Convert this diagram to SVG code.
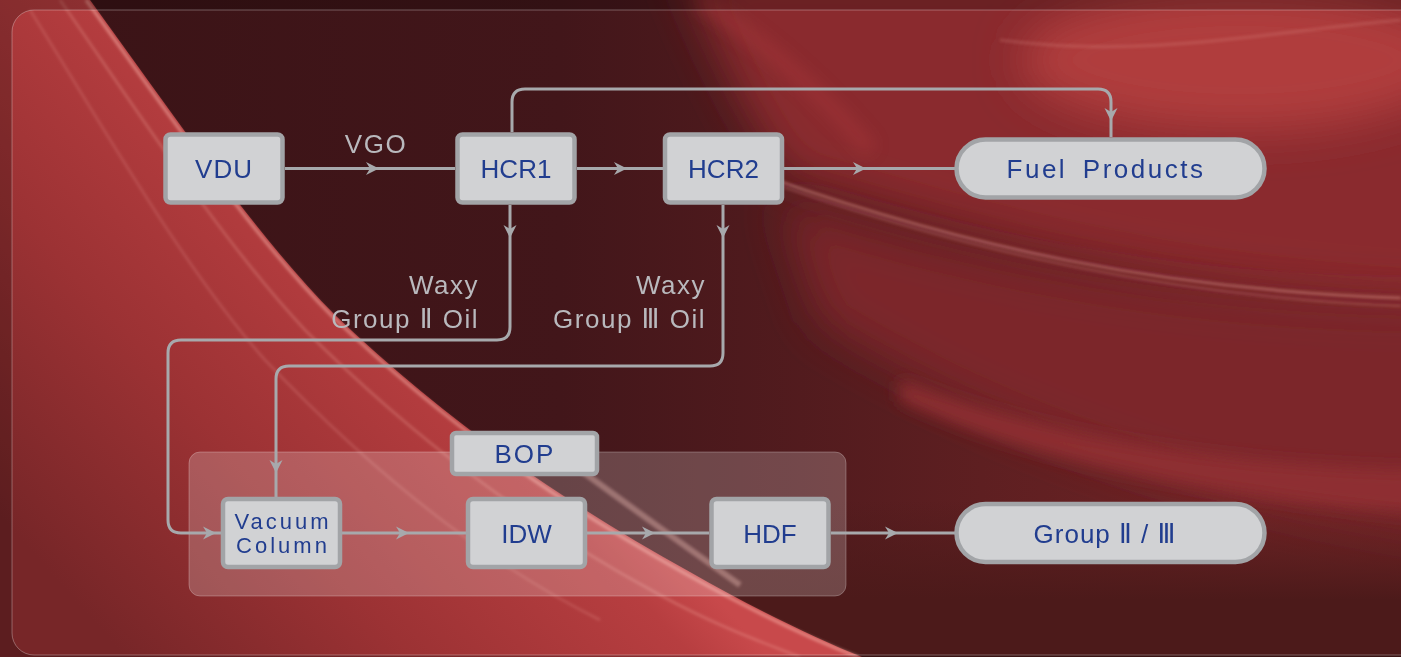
<svg xmlns="http://www.w3.org/2000/svg" xmlns:xlink="http://www.w3.org/1999/xlink" width="1401" height="657" viewBox="0 0 1401 657">
<defs>
<style>
.box{fill:#d1d2d4;stroke:#a2a4a7;stroke-width:4.5}
.nt{font-family:"Liberation Sans","DejaVu Sans",Arial,sans-serif;font-size:26px;fill:#213d8f;text-anchor:middle}
.lb{font-family:"Liberation Sans","DejaVu Sans",Arial,sans-serif;font-size:26px;fill:#b9b9bd;letter-spacing:1.5px}
.ln{fill:none;stroke:#a7a9ac;stroke-width:3}
.ah{fill:#a7a9ac}
</style>
<filter id="b20" filterUnits="userSpaceOnUse" x="-300" y="-300" width="2001" height="1257"><feGaussianBlur stdDeviation="22"/></filter>
<filter id="b8" filterUnits="userSpaceOnUse" x="-300" y="-300" width="2001" height="1257"><feGaussianBlur stdDeviation="8"/></filter>
<filter id="b2" filterUnits="userSpaceOnUse" x="-300" y="-300" width="2001" height="1257"><feGaussianBlur stdDeviation="1.5"/></filter>
<linearGradient id="base" x1="0" y1="0" x2="1" y2="0">
<stop offset="0" stop-color="#3a1316"/>
<stop offset="0.4" stop-color="#42161a"/>
<stop offset="0.7" stop-color="#5e1f21"/>
<stop offset="1" stop-color="#782628"/>
</linearGradient>
<linearGradient id="dark" gradientUnits="userSpaceOnUse" x1="0" y1="500" x2="0" y2="600">
<stop offset="0" stop-color="#4c1a1a" stop-opacity="0"/>
<stop offset="1" stop-color="#4c1a1a" stop-opacity="1"/>
</linearGradient>
<linearGradient id="swath" gradientUnits="userSpaceOnUse" x1="470" y1="320" x2="110" y2="640">
<stop offset="0" stop-color="#c8494b"/>
<stop offset="0.12" stop-color="#b73e40"/>
<stop offset="0.55" stop-color="#9c3234"/>
<stop offset="1" stop-color="#772628"/>
</linearGradient>
<path id="ah" d="M-13,-6.5 L0,0 L-13,6.5 L-9,0 Z"/>
</defs>

<g id="background">
<rect x="0" y="0" width="1401" height="657" fill="url(#base)"/>
<path d="M680,-40 L1460,-40 L1460,300 C1200,290 1000,240 790,175 C750,120 720,60 680,-40 Z" fill="#8a2b2d" filter="url(#b20)"/>
<ellipse cx="1240" cy="60" rx="220" ry="70" fill="#b03c3e" filter="url(#b20)"/>
<path d="M780,200 C1000,270 1200,305 1460,305 L1460,540 C1200,500 1000,430 820,320 Z" fill="#7c2729" filter="url(#b20)"/>
<path d="M900,380 C1050,440 1250,470 1460,470 L1460,520 C1250,500 1050,470 900,400 Z" fill="#8e2e30" filter="url(#b8)"/>
<rect x="700" y="500" width="701" height="157" fill="url(#dark)"/>
<path d="M700,0 C760,40 820,90 870,150" fill="none" stroke="#a8383a" stroke-width="14" filter="url(#b8)" opacity="0.5"/>
<g fill="none" stroke="#f0a8a0" filter="url(#b2)">
<path d="M770,178 C960,245 1160,290 1401,298" stroke-width="2.5" opacity="0.45"/>
<path d="M780,186 C970,252 1170,296 1401,306" stroke-width="1.5" opacity="0.35"/>
<path d="M1000,40 C1150,60 1280,30 1401,20" stroke-width="3" opacity="0.2"/>
</g>
<path d="M0,0 L90,0 C170,110 255,235 335,315 C445,420 560,500 690,572 C760,612 820,640 862,657 L0,657 Z" fill="url(#swath)"/>
<g fill="none" stroke="#ffc0b4" filter="url(#b2)">
<path d="M86,0 C166,110 252,236 332,316 C442,421 556,502 686,574 C756,613 816,641 858,657" stroke-width="3" opacity="0.5"/>
<path d="M60,0 C140,115 225,245 305,330 C415,440 530,525 660,595 C720,628 770,645 800,657" stroke-width="2" opacity="0.3"/>
<path d="M30,10 C105,130 185,270 265,360 C370,470 480,560 600,620" stroke-width="2" opacity="0.22"/>
<path d="M540,440 C580,470 620,500 740,585" stroke-width="6" opacity="0.35"/>
</g>
<path d="M0,0 H1401 V657 H0 Z M34,10 H1401 V655 H34 A22,22 0 0 1 12,633 V32 A22,22 0 0 1 34,10 Z" fill="#000" fill-opacity="0.22" fill-rule="evenodd"/>
<path d="M1401,10 H34 A22,22 0 0 0 12,32 V633 A22,22 0 0 0 34,655 H1401" fill="none" stroke="#ffffff" stroke-opacity="0.3" stroke-width="1"/>
</g>

<g id="bop-panel">
<rect x="189" y="452" width="657" height="144" rx="11" fill="#ffffff" fill-opacity="0.2" stroke="#ffffff" stroke-opacity="0.25" stroke-width="1"/>
</g>

<g id="connectors">
<path class="ln" d="M285,168.5 H455"/>
<path class="ln" d="M577,168.5 H663"/>
<path class="ln" d="M784,168.5 H956"/>
<path class="ln" d="M512,132 V102 Q512,89 525,89 H1098 Q1111,89 1111,102 V137"/>
<path class="ln" d="M510,205 V327 Q510,340 497,340 H181 Q168,340 168,353 V520 Q168,533 181,533 H221"/>
<path class="ln" d="M723,205 V353 Q723,366 710,366 H289 Q276,366 276,379 V497"/>
<path class="ln" d="M342,533 H466"/>
<path class="ln" d="M587,533 H709"/>
<path class="ln" d="M831,533 H955"/>
<use xlink:href="#ah" class="ah" transform="translate(379,168.5)"/>
<use xlink:href="#ah" class="ah" transform="translate(627,168.5)"/>
<use xlink:href="#ah" class="ah" transform="translate(866,168.5)"/>
<use xlink:href="#ah" class="ah" transform="translate(1111,121) rotate(90)"/>
<use xlink:href="#ah" class="ah" transform="translate(510,238) rotate(90)"/>
<use xlink:href="#ah" class="ah" transform="translate(723,238) rotate(90)"/>
<use xlink:href="#ah" class="ah" transform="translate(216,533)"/>
<use xlink:href="#ah" class="ah" transform="translate(276,473) rotate(90)"/>
<use xlink:href="#ah" class="ah" transform="translate(409,533)"/>
<use xlink:href="#ah" class="ah" transform="translate(655,533)"/>
<use xlink:href="#ah" class="ah" transform="translate(898,533)"/>
</g>

<g id="labels">
<text class="lb" x="376" y="153" text-anchor="middle">VGO</text>
<text class="lb" x="479" y="294" text-anchor="end">Waxy</text>
<text class="lb" x="479" y="328" text-anchor="end">Group Ⅱ Oil</text>
<text class="lb" x="706" y="294" text-anchor="end">Waxy</text>
<text class="lb" x="706" y="328" text-anchor="end">Group Ⅲ Oil</text>
</g>

<g id="node-vdu">
<rect class="box" x="165.5" y="134.5" width="117" height="68" rx="5"/>
<text class="nt" x="224" y="177.5" letter-spacing="1">VDU</text>
</g>
<g id="node-hcr1">
<rect class="box" x="457.5" y="134.5" width="117" height="68" rx="5"/>
<text class="nt" x="516" y="177.5">HCR1</text>
</g>
<g id="node-hcr2">
<rect class="box" x="665" y="134.5" width="117" height="68" rx="5"/>
<text class="nt" x="723.5" y="177.5">HCR2</text>
</g>
<g id="node-fuel">
<rect class="box" x="956.5" y="139.5" width="308" height="58" rx="29"/>
<text class="nt" x="1106" y="177.5" letter-spacing="2.5" word-spacing="6">Fuel Products</text>
</g>
<g id="node-bop">
<rect class="box" x="452" y="433" width="145" height="41" rx="4"/>
<text class="nt" x="525" y="463" letter-spacing="2">BOP</text>
</g>
<g id="node-vacuum">
<rect class="box" x="223" y="499" width="117" height="68" rx="5"/>
<text class="nt" x="283" y="529" style="font-size:22px" letter-spacing="3">Vacuum</text>
<text class="nt" x="283" y="553" style="font-size:22px" letter-spacing="3">Column</text>
</g>
<g id="node-idw">
<rect class="box" x="468" y="499" width="117" height="68" rx="5"/>
<text class="nt" x="526.5" y="543">IDW</text>
</g>
<g id="node-hdf">
<rect class="box" x="711.5" y="499" width="117" height="68" rx="5"/>
<text class="nt" x="770" y="543">HDF</text>
</g>
<g id="node-group">
<rect class="box" x="956.5" y="504" width="308" height="58" rx="29"/>
<text class="nt" x="1105" y="543" letter-spacing="1">Group Ⅱ / Ⅲ</text>
</g>
</svg>
